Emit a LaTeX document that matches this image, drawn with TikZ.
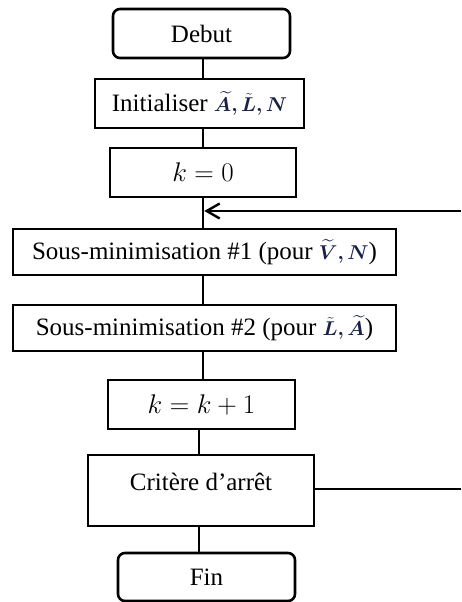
\RequirePackage{fix-cm}
\documentclass[tikz,border=0pt]{standalone}
\usepackage{amsmath}
\usepackage{bm}
\usepackage{fontspec}
\setmainfont{Liberation Serif}
\usetikzlibrary{arrows.meta}
\definecolor{navy}{rgb}{0.1,0.13,0.28}
\newcommand{\vbm}[1]{{\fontsize{20}{24}\selectfont\textcolor{navy}{$#1$}}}
\begin{document}
\begin{tikzpicture}[x=1pt,y=-1pt,
  box/.style={draw, line width=2.6pt, inner sep=0pt, font=\fontsize{25}{29}\selectfont},
  term/.style={box, rounded corners=7pt},
  conn/.style={line width=2.6pt},
  txt/.style={inner sep=0pt, font=\fontsize{25}{29}\selectfont}]
\useasboundingbox (0,0) rectangle (461,602);
\coordinate (spine) at (203,0);
\coordinate (spineb) at (199,0);
\coordinate (fbin) at (461,211);
\coordinate (fbout) at (461,489);

\node[term, minimum width=177, minimum height=49] (debut) at (201.5,33.5) {Debut};
\node[box, minimum width=209, minimum height=49] (init) at (199.5,103.5) {Initialiser \vbm{\bm{\widetilde{A}}\bm{,}\bm{\tilde{L}}\bm{,}\bm{N}}};
\node[box, minimum width=186, minimum height=49] (k0) at (203,172.5) {\fontsize{27}{30}\selectfont$k=0$};
\node[box, minimum width=383, minimum height=46] (sm1) at (204.5,252) {Sous-minimisation \#1 (pour \vbm{\bm{\widetilde{V}}\bm{,}\bm{N}})};
\node[box, minimum width=383, minimum height=46] (sm2) at (204.5,328) {Sous-minimisation \#2 (pour \vbm{\bm{\tilde{L}}\bm{,}\bm{\widetilde{A}}})};
\node[box, minimum width=187, minimum height=49] (kk1) at (201.5,404.5) {\fontsize{27}{30}\selectfont$k=k+1$};
\node[box, minimum width=226, minimum height=71] (crit) at (201,490.5) {};
\node[txt] (critlabel) at (201,482) {Critère d’arrêt};
\node[term, minimum width=177, minimum height=48] (fin) at (206.5,577) {Fin};

\draw[conn] (debut.south -| spine) -- (init.north -| spine);
\draw[conn] (init.south -| spine) -- (k0.north -| spine);
\draw[conn] (k0.south -| spine) -- (sm1.north -| spine);
\draw[conn] (sm1.south -| spine) -- (sm2.north -| spine);
\draw[conn] (sm2.south -| spine) -- (kk1.north -| spine);
\draw[conn] (kk1.south -| spineb) -- (crit.north -| spineb);
\draw[conn] (crit.south -| spineb) -- (fin.north -| spineb);
\draw[conn, -{Straight Barb[length=13pt,width=15pt,line width=2.4pt]}] (fbin) -- ([xshift=1.3pt]fbin -| spine);
\draw[conn] (crit.east |- fbout) -- (fbout);
\end{tikzpicture}
\end{document}
